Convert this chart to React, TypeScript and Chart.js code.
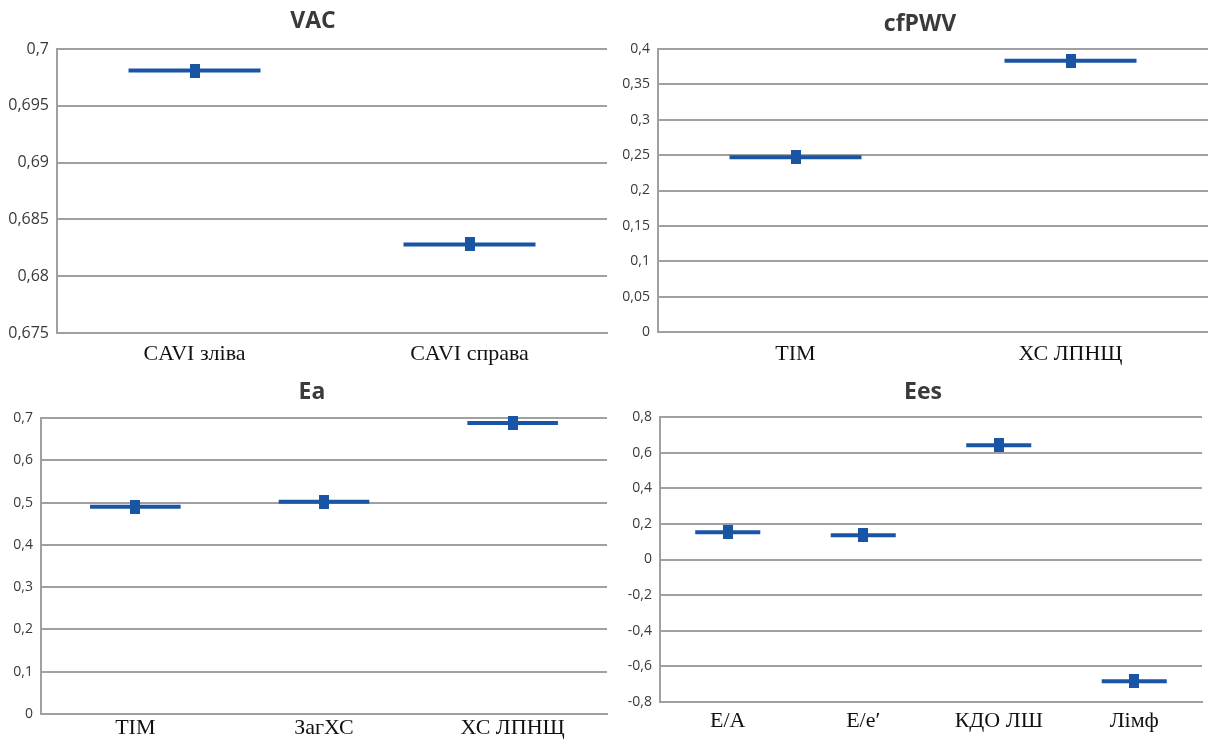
import React, { useEffect, useRef } from 'react';
import { Chart, registerables } from 'chart.js';

Chart.register(...registerables);

// ---------- data ----------
const vacCategories = ['CAVI зліва', 'CAVI справа'];
const vacValues = [0.6981, 0.6828];
const vacTicks = [0.675, 0.68, 0.685, 0.69, 0.695, 0.7];

const pwvCategories = ['ТІМ', 'ХС ЛПНЩ'];
const pwvValues = [0.247, 0.3835];
const pwvTicks = [0, 0.05, 0.1, 0.15, 0.2, 0.25, 0.3, 0.35, 0.4];

const eaCategories = ['ТІМ', 'ЗагХС', 'ХС ЛПНЩ'];
const eaValues = [0.49, 0.502, 0.688];
const eaTicks = [0, 0.1, 0.2, 0.3, 0.4, 0.5, 0.6, 0.7];

const eesCategories = ['Е/А', 'Е/е′', 'КДО ЛШ', 'Лімф'];
const eesValues = [0.153, 0.136, 0.641, -0.683];
const eesTicks = [-0.8, -0.6, -0.4, -0.2, 0, 0.2, 0.4, 0.6, 0.8];

// ---------- styling ----------
const BLUE = '#1a54a4';
const GRID = '#a0a0a0';

type PanelProps = {
  title: string;
  categories: string[];
  values: number[];
  ticks: number[];
  left: number;
  top: number;
  width: number;
  height: number;
  yWidth: number;
  titleCenter: number;
  titlePadTop: number;
  titlePadBottom: number;
  xPad: number;
  yFont: number;
};

function makeSquare(): HTMLCanvasElement {
  const c = document.createElement('canvas');
  c.width = 10;
  c.height = 14;
  const g = c.getContext('2d');
  if (g) {
    g.fillStyle = BLUE;
    g.fillRect(0, 0, 10, 14);
  }
  return c;
}

function Panel(p: PanelProps) {
  const ref = useRef<HTMLCanvasElement | null>(null);
  useEffect(() => {
    if (!ref.current) return;
    const square = makeSquare();
    const n = p.categories.length;
    const titleShift = {
      id: 'titleShift',
      afterLayout(chart: any) {
        const t = chart.titleBlock;
        if (!t) return;
        const cur = (t.left + t.right) / 2;
        const want = p.titleCenter - p.left;
        const d = want - cur;
        t.left += d;
        t.right += d;
      },
    };
    const chart = new Chart(ref.current, {
      type: 'line',
      data: {
        labels: p.categories,
        datasets: [
          {
            data: p.values,
            showLine: false,
            pointStyle: square as any,
            pointRadius: 7,
            clip: false as any,
          },
          {
            data: p.values,
            showLine: false,
            pointStyle: 'line',
            pointRadius: (ctx: any) => {
              const xs = ctx.chart.scales.x;
              return xs ? (xs.width / n) * 0.24 : 30;
            },
            pointBorderColor: BLUE,
            pointBackgroundColor: BLUE,
            pointBorderWidth: 4,
            clip: false as any,
          },
        ],
      },
      options: {
        responsive: false,
        animation: false,
        devicePixelRatio: 1,
        layout: { padding: 0 },
        plugins: {
          legend: { display: false },
          tooltip: { enabled: false },
          title: {
            display: true,
            text: p.title,
            color: '#3a3a3a',
            font: { family: 'Open Sans', weight: 'bold', size: 23, lineHeight: 1.2 },
            padding: { top: p.titlePadTop, bottom: p.titlePadBottom },
          },
        },
        scales: {
          x: {
            type: 'category',
            offset: true,
            grid: { display: false, drawTicks: false, tickLength: 0 },
            border: { display: true, color: GRID, width: 2 },
            ticks: {
              color: '#111111',
              font: { family: 'Liberation Serif', size: 22, lineHeight: 1.2 },
              padding: p.xPad,
              maxRotation: 0,
              autoSkip: false,
            },
            afterFit: (s: any) => {
              s.height = 40;
            },
          },
          y: {
            min: p.ticks[0],
            max: p.ticks[p.ticks.length - 1],
            grid: { color: GRID, lineWidth: 2, drawTicks: false, tickLength: 0 },
            border: { display: true, color: GRID, width: 2 },
            ticks: {
              color: '#3a3a3a',
              font: { family: 'Open Sans', size: p.yFont },
              padding: 8,
              callback: (v: any) => String(v).replace('.', ','),
            },
            afterBuildTicks: (s: any) => {
              s.ticks = p.ticks.map((v) => ({ value: v }));
            },
            afterFit: (s: any) => {
              s.width = p.yWidth;
            },
          },
        },
      },
      plugins: [titleShift],
    });
    return () => chart.destroy();
  }, []);
  return (
    <canvas
      ref={ref}
      width={p.width}
      height={p.height}
      style={{
        position: 'absolute',
        left: p.left,
        top: p.top,
        width: p.width,
        height: p.height,
      }}
    />
  );
}

export default function App() {
  return (
    <div
      style={{
        position: 'absolute',
        left: 0,
        top: 0,
        width: 1208,
        height: 741,
        overflow: 'hidden',
        background: '#ffffff',
      }}
    >
      <Panel
        title="VAC"
        categories={vacCategories}
        values={vacValues}
        ticks={vacTicks}
        left={0}
        top={0}
        width={615}
        height={373}
        yWidth={57}
        titleCenter={313}
        titlePadTop={7.2}
        titlePadBottom={14.2}
        xPad={8}
        yFont={16}
      />
      <Panel
        title="cfPWV"
        categories={pwvCategories}
        values={pwvValues}
        ticks={pwvTicks}
        left={615}
        top={0}
        width={601}
        height={372}
        yWidth={43}
        titleCenter={920}
        titlePadTop={10.2}
        titlePadBottom={11.2}
        xPad={9}
        yFont={14}
      />
      <Panel
        title="Ea"
        categories={eaCategories}
        values={eaValues}
        ticks={eaTicks}
        left={0}
        top={370}
        width={615}
        height={384}
        yWidth={41}
        titleCenter={312}
        titlePadTop={8.2}
        titlePadBottom={12.2}
        xPad={1}
        yFont={14}
      />
      <Panel
        title="Ees"
        categories={eesCategories}
        values={eesValues}
        ticks={eesTicks}
        left={615}
        top={370}
        width={595}
        height={372}
        yWidth={45}
        titleCenter={923}
        titlePadTop={8.2}
        titlePadBottom={11.2}
        xPad={6}
        yFont={14}
      />
    </div>
  );
}
